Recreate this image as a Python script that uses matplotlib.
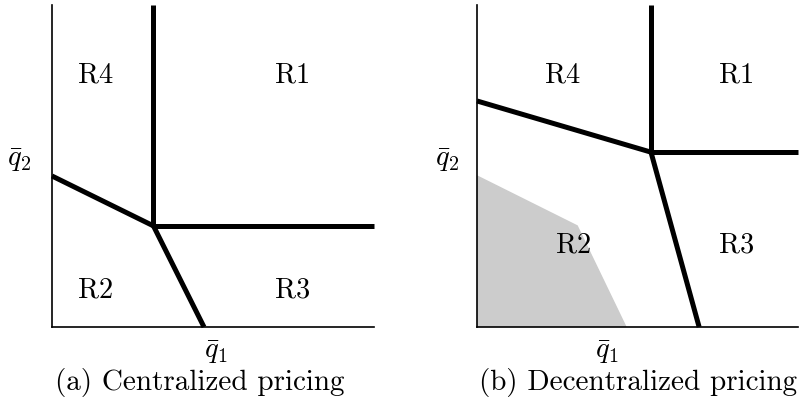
import matplotlib
matplotlib.use("Agg")
import matplotlib.pyplot as plt

plt.rcParams['mathtext.fontset'] = 'cm'
plt.rcParams['font.family'] = 'cmr10'

# boundaries, axes fractions
# (a) centralized
cen_vert_x = [0.315, 0.315]
cen_vert_y = [0.314, 1.0]
cen_horiz_x = [0.315, 1.0]
cen_horiz_y = [0.314, 0.314]
cen_left_x = [0.0, 0.315]
cen_left_y = [0.469, 0.314]
cen_down_x = [0.315, 0.472]
cen_down_y = [0.314, 0.0]

# (b) decentralized
dec_vert_x = [0.542, 0.542]
dec_vert_y = [0.543, 1.0]
dec_horiz_x = [0.542, 1.0]
dec_horiz_y = [0.543, 0.543]
dec_left_x = [0.0, 0.542]
dec_left_y = [0.702, 0.543]
dec_down_x = [0.542, 0.692]
dec_down_y = [0.543, 0.0]

# shaded: centralized R2 region
shade_x = [0.0, 0.0, 0.312, 0.464]
shade_y = [0.0, 0.469, 0.314, 0.0]

regions = ['R1', 'R2', 'R3', 'R4']
cen_lab_pos = [(0.748, 0.786), (0.134, 0.118), (0.748, 0.118), (0.134, 0.786)]
dec_lab_pos = [(0.81, 0.786), (0.302, 0.258), (0.81, 0.258), (0.268, 0.786)]

captions = ['(a) Centralized pricing', '(b) Decentralized pricing']

fig = plt.figure(figsize=(8.03, 4.10), dpi=100)
ax1 = fig.add_axes([52/803, 82/410, 322/803, 322/410])
ax2 = fig.add_axes([477/803, 82/410, 321/803, 322/410])

lw = 3.6
for ax in (ax1, ax2):
    ax.set_xlim(0, 1)
    ax.set_ylim(0, 1)
    ax.set_xticks([])
    ax.set_yticks([])
    ax.spines['top'].set_visible(False)
    ax.spines['right'].set_visible(False)
    ax.spines['left'].set_linewidth(1.2)
    ax.spines['bottom'].set_linewidth(1.2)

ax2.fill(shade_x, shade_y, color='#cccccc', zorder=0)

for xs, ys in [(cen_vert_x, cen_vert_y), (cen_horiz_x, cen_horiz_y),
               (cen_left_x, cen_left_y), (cen_down_x, cen_down_y)]:
    ax1.plot(xs, ys, color='black', lw=lw, clip_on=False, solid_capstyle='butt')
for xs, ys in [(dec_vert_x, dec_vert_y), (dec_horiz_x, dec_horiz_y),
               (dec_left_x, dec_left_y), (dec_down_x, dec_down_y)]:
    ax2.plot(xs, ys, color='black', lw=lw, clip_on=False, solid_capstyle='butt')

fs = 20.5
for name, (x, y) in zip(regions, cen_lab_pos):
    ax1.text(x, y, name, fontsize=fs, ha='center', va='center')
for name, (x, y) in zip(regions, dec_lab_pos):
    ax2.text(x, y, name, fontsize=fs, ha='center', va='center')

ax1.text(0.51, -0.075, r'$\bar{q}_1$', transform=ax1.transAxes, fontsize=fs, ha='center', va='center')
ax2.text(0.405, -0.075, r'$\bar{q}_1$', transform=ax2.transAxes, fontsize=fs, ha='center', va='center')
ax1.text(-0.10, 0.52, r'$\bar{q}_2$', transform=ax1.transAxes, fontsize=fs, ha='center', va='center')
ax2.text(-0.093, 0.52, r'$\bar{q}_2$', transform=ax2.transAxes, fontsize=fs, ha='center', va='center')

fig.text(200/803, 1 - 383/410, captions[0], fontsize=21, ha='center', va='center')
fig.text(638/803, 1 - 383/410, captions[1], fontsize=21, ha='center', va='center')

fig.savefig('out.png', dpi=100)
